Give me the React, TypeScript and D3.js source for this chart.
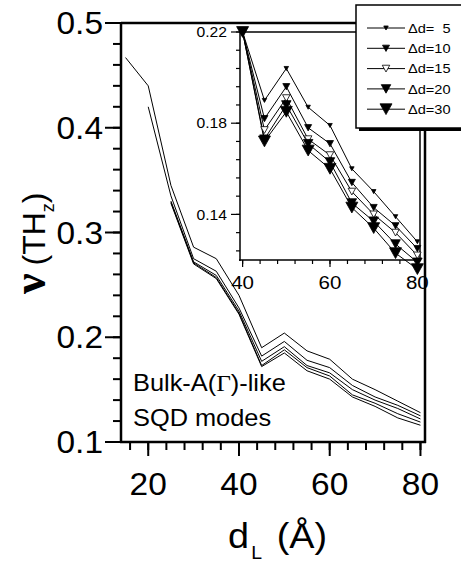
import React from 'react';
import * as d3 from 'd3';

// ---------- data ----------
const dL = [15, 20, 25, 30, 35, 40, 45, 50, 55, 60, 65, 70, 75, 80];
const seriesLabels = ['Δd=  5', 'Δd=10', 'Δd=15', 'Δd=20', 'Δd=30'];
const dd5 = [0.467, 0.44, 0.345, 0.286, 0.275, 0.240, 0.190, 0.204, 0.187, 0.179, 0.160, 0.150, 0.139, 0.128];
const dd10 = [null, 0.42, 0.335, 0.275, 0.263, 0.228, 0.182, 0.196, 0.178, 0.171, 0.154, 0.143, 0.135, 0.125];
const dd15 = [null, null, 0.330, 0.272, 0.259, 0.225, 0.177, 0.191, 0.173, 0.166, 0.150, 0.140, 0.132, 0.122];
const dd20 = [null, null, 0.329, 0.271, 0.257, 0.223, 0.173, 0.188, 0.171, 0.163, 0.145, 0.137, 0.127, 0.119];
const dd30 = [null, null, 0.328, 0.270, 0.256, 0.222, 0.172, 0.185, 0.168, 0.160, 0.143, 0.134, 0.123, 0.116];
const allSeries = [dd5, dd10, dd15, dd20, dd30];

const mainXTicks = [20, 40, 60, 80];
const mainYTicks = [0.1, 0.2, 0.3, 0.4, 0.5];
const insetXTicks = [40, 60, 80];
const insetYTicks = [0.14, 0.18, 0.22];
const insetYTickLabels = ['0.14', '0.18', '0.22'];
const annotation = ['Bulk-A(', 'Γ', ')-like'];
const annotation2 = 'SQD modes';

// ---------- styles ----------
const markerWidths = [4.5, 7, 7.5, 9.5, 12];
const markerFilled = [true, true, false, true, true];
const FONT = 'Liberation Sans, Arial, Helvetica, sans-serif';
const SX = 1.08;

// ---------- scales ----------
const mx = d3.scaleLinear().domain([14, 81]).range([121, 425]);
const my = d3.scaleLinear().domain([0.1, 0.5]).range([442, 23]);
const ix = d3.scaleLinear().domain([39.4, 80.6]).range([240, 420]);
const iyDomain = [0.12, 0.22];
const iy = d3.scaleLinear().domain(iyDomain).range([260, 32]);

function tri(cx: number, cy: number, w: number) {
  const h = w * 0.9;
  return `M${cx - w / 2},${cy - h / 2}L${cx + w / 2},${cy - h / 2}L${cx},${cy + h / 2}Z`;
}

const Txt = ({ x, y, size, anchor = 'start', children, dy = '0', family = FONT }: any) => (
  <text
    transform={`translate(${x},${y}) scale(${SX},1)`}
    fontSize={size}
    textAnchor={anchor}
    dy={dy}
    fontFamily={family}
    fill="#000"
    style={{ whiteSpace: 'pre' }}
  >
    {children}
  </text>
);

export default function App() {
  const mainLine = d3
    .line<[number, number | null]>()
    .defined((d) => d[1] != null)
    .x((d) => mx(d[0]))
    .y((d) => my(d[1] as number));

  const insetLine = d3
    .line<[number, number | null]>()
    .defined((d) => d[1] != null && d[0] >= 40)
    .x((d) => ix(d[0]))
    .y((d) => iy(Math.min(d[1] as number, iyDomain[1])));

  const mainMinorY = d3.range(0.1, 0.5001, 0.02);
  const mainMinorX = d3.range(16, 81, 4);
  const insetMinorY = d3.range(0.124, 0.2201, 0.008);
  const insetMinorX = d3.range(40, 80.1, 4);

  const legendY = (i: number) => 28 + i * 20.3;

  return (
    <svg width={461} height={567} style={{ position: 'absolute', left: 0, top: 0, background: '#fff' }}>
      <rect x={0} y={0} width={461} height={567} fill="#fff" />
      {/* main frame */}
      <g stroke="#000" fill="none">
        <line x1={121} x2={425} y1={23} y2={23} strokeWidth={2.5} />
        <line x1={425} x2={425} y1={23} y2={443} strokeWidth={2.5} />
        <line x1={121} x2={121} y1={22} y2={443} strokeWidth={2.5} />
        <line x1={120} x2={426} y1={442} y2={442} strokeWidth={2.5} />
        {mainMinorY.map((v, i) => (
          <line key={'my' + i} x1={113} x2={121} y1={my(v)} y2={my(v)} strokeWidth={2} />
        ))}
        {mainYTicks.map((v, i) => (
          <line key={'MY' + i} x1={105} x2={121} y1={my(v)} y2={my(v)} strokeWidth={2} />
        ))}
        {mainMinorX.map((v, i) => (
          <line key={'mx' + i} x1={mx(v)} x2={mx(v)} y1={442} y2={450} strokeWidth={2} />
        ))}
        {mainXTicks.map((v, i) => (
          <line key={'MX' + i} x1={mx(v)} x2={mx(v)} y1={442} y2={456} strokeWidth={2} />
        ))}
      </g>
      {mainYTicks.map((v, i) => (
        <Txt key={'tyl' + i} x={103} y={my(v)} size={31} anchor="end" dy="0.36em">
          {v.toFixed(1)}
        </Txt>
      ))}
      {mainXTicks.map((v, i) => (
        <Txt key={'txl' + i} x={mx(v)} y={495} size={31} anchor="middle">
          {String(v)}
        </Txt>
      ))}
      {/* main lines */}
      <g fill="none" stroke="#000" strokeWidth={1}>
        {allSeries.map((s, k) => (
          <path key={'ml' + k} d={mainLine(dL.map((x, i) => [x, s[i]]) as any) || ''} />
        ))}
      </g>
      {/* annotation */}
      <text transform={`translate(133,391) scale(${SX},1)`} fontSize={23.5} fontFamily={FONT}>
        {annotation[0]}
        <tspan fontFamily="Liberation Serif, Times New Roman, serif">{annotation[1]}</tspan>
        {annotation[2]}
      </text>
      <Txt x={133} y={426} size={23.5}>
        {annotation2}
      </Txt>
      {/* axis titles */}
      <text transform={`translate(228,548) scale(${SX},1)`} fontSize={35} fontFamily={FONT}>
        d<tspan fontSize={18} dy={11} dx={2}>L</tspan>
        <tspan dy={-11} dx={4}>{' (Å)'}</tspan>
      </text>
      <text transform="translate(45,294) rotate(-90)" fontSize={32} fontFamily={FONT}>
        <tspan fontSize={46} fontWeight="bold" fontFamily="Liberation Serif, Times New Roman, serif">
          ν
        </tspan>
        <tspan dx={8}>(TH</tspan>
        <tspan fontSize={18} dy={9}>z</tspan>
        <tspan dy={-9}>)</tspan>
      </text>

      {/* inset */}
      <rect x={240} y={32} width={180} height={228} fill="#fff" />
      <g stroke="#000" fill="none">
        <line x1={240} x2={420} y1={32} y2={32} strokeWidth={1.5} />
        <line x1={420} x2={420} y1={32} y2={261} strokeWidth={1.5} />
        <line x1={240} x2={240} y1={31} y2={261} strokeWidth={1.5} />
        <line x1={239} x2={421} y1={260} y2={260} strokeWidth={1.5} />
        {insetMinorY.map((v, i) => (
          <line key={'iy' + i} x1={236} x2={240} y1={iy(v)} y2={iy(v)} strokeWidth={1.2} />
        ))}
        {insetYTicks.map((v, i) => (
          <line key={'IY' + i} x1={231} x2={240} y1={iy(v)} y2={iy(v)} strokeWidth={1.2} />
        ))}
        {insetMinorX.map((v, i) => (
          <line key={'ix' + i} x1={ix(v)} x2={ix(v)} y1={260} y2={264} strokeWidth={1.2} />
        ))}
        {insetXTicks.map((v, i) => (
          <line key={'IX' + i} x1={ix(v)} x2={ix(v)} y1={260} y2={267} strokeWidth={1.2} />
        ))}
      </g>
      {insetYTicks.map((v, i) => (
        <Txt key={'iyl' + i} x={227} y={iy(v)} size={14.5} anchor="end" dy="0.36em">
          {insetYTickLabels[i]}
        </Txt>
      ))}
      {insetXTicks.map((v, i) => (
        <Txt key={'ixl' + i} x={ix(v)} y={289} size={19} anchor="middle">
          {String(v)}
        </Txt>
      ))}
      <g fill="none" stroke="#000" strokeWidth={1}>
        {allSeries.map((s, k) => (
          <path key={'il' + k} d={insetLine(dL.map((x, i) => [x, s[i]]) as any) || ''} />
        ))}
      </g>
      {allSeries.map((s, k) => (
        <g key={'im' + k}>
          {dL.map((x, i) =>
            s[i] != null && x >= 40 ? (
              <path
                key={i}
                d={tri(ix(x), iy(Math.min(s[i] as number, iyDomain[1])), markerWidths[k])}
                fill={markerFilled[k] ? '#000' : '#fff'}
                stroke="#000"
                strokeWidth={0.8}
              />
            ) : null
          )}
        </g>
      ))}

      {/* legend */}
      <rect x={359} y={8} width={110} height={123} fill="#000" />
      <rect x={356} y={5} width={110} height={123} fill="#fff" stroke="#000" strokeWidth={1.5} />
      {seriesLabels.map((lab, k) => (
        <g key={'lg' + k}>
          <line x1={367} x2={405} y1={legendY(k)} y2={legendY(k)} stroke="#000" strokeWidth={1} />
          <path
            d={tri(386, legendY(k), markerWidths[k])}
            fill={markerFilled[k] ? '#000' : '#fff'}
            stroke="#000"
            strokeWidth={0.8}
          />
          <Txt x={408} y={legendY(k)} size={13.5} dy="0.36em">
            {lab}
          </Txt>
        </g>
      ))}
    </svg>
  );
}
